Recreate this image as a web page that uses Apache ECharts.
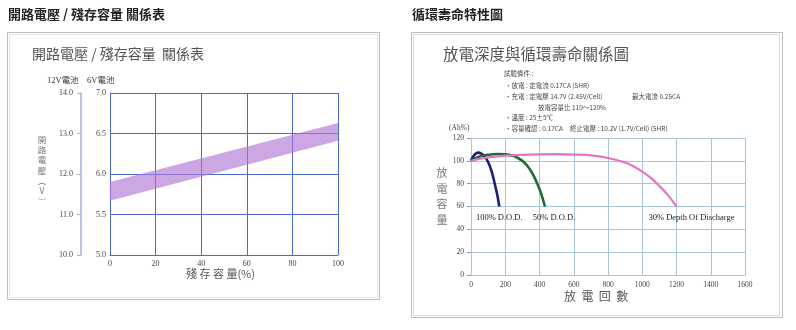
<!DOCTYPE html>
<html>
<head>
<meta charset="utf-8">
<script src="https://cdn.jsdelivr.net/npm/echarts@6/dist/echarts.min.js"></script>
<style>
  html, body { margin: 0; padding: 0; background: #fff; }
  #c { width: 796px; height: 330px; }
</style>
</head>
<body>
<div id="c"></div>
<script>
// Open-circuit voltage vs. remaining capacity (6V scale; 12V scale is x2)
const remainingCapacity = [0, 100];
const ocv6Lower = [5.67, 6.41];
const ocv6Upper = [5.90, 6.63];

// Cycle life vs. depth of discharge
const dod100Cycles = [0, 10, 25, 42, 60, 80, 100, 120, 140, 155, 165];
const dod100Capacity = [100, 103, 106, 107.2, 106.3, 104, 99, 91, 79, 69, 60];
const dod50Cycles = [0, 50, 100, 150, 200, 250, 300, 330, 360, 390, 410, 432];
const dod50Capacity = [100, 103.8, 105.3, 106, 105.7, 104.2, 100, 95.5, 88.5, 79, 71, 60];
const dod30Cycles = [0, 100, 200, 300, 400, 500, 600, 700, 800, 900, 950, 1000, 1050, 1100, 1150, 1200];
const dod30Capacity = [100, 103, 104.5, 105.3, 105.7, 105.8, 105.5, 104.8, 102.5, 98.5, 95, 90.5, 85, 78, 70, 60];

const dodLabels = ['100% D.O.D.', '50% D.O.D.', '30% Depth Of Discharge'];

const testConditions = [
  '試驗條件 :',
  '‧放電 : 定電流 0.17CA (5HR)',
  '‧充電 : 定電壓 14.7V (2.45V/Cell)',
  '放電容量比 110～120%',
  '‧溫度 : 25±5℃',
  '‧容量確認 : 0.17CA'
];
const chargeMaxCurrent = '最大電流 0.25CA';
const cutoffVoltage = '終止電壓 : 10.2V (1.7V/Cell) (5HR)';

const voltageAxisName = ['開', '路', '電', '壓', '︵', 'V', '︶'];
const capacityAxisName = ['放', '電', '容', '量'];

const SERIF = '"Liberation Serif", "Noto Sans CJK TC", serif';
const CJK = '"Noto Sans CJK TC", sans-serif';

const zip = (xs, ys) => xs.map((x, i) => [x, ys[i]]);

const leftGrid = '#4a6bc9';
const rightGrid = '#a9c5de';

// band segments: [x0, lo0, hi0, x1, lo1, hi1]
const bandSegments = [];
for (let i = 0; i < remainingCapacity.length - 1; i++) {
  bandSegments.push([
    remainingCapacity[i], ocv6Lower[i], ocv6Upper[i],
    remainingCapacity[i + 1], ocv6Lower[i + 1], ocv6Upper[i + 1]
  ]);
}

function dodSeries(name, xs, ys, color, width, label, offset) {
  const last = xs.length - 1;
  return {
    name, type: 'line', xAxisIndex: 1, yAxisIndex: 2,
    data: zip(xs, ys), smooth: 0.4, symbol: 'none',
    lineStyle: { color, width },
    markPoint: {
      symbol: 'circle', symbolSize: 0,
      data: [{ coord: [xs[last], ys[last]] }],
      label: {
        show: true, formatter: label, position: 'bottom', offset,
        fontFamily: SERIF, fontSize: 8.5, color: '#222'
      }
    },
    z: 3
  };
}

// vertical axis title, one glyph per line
function verticalText(chars, cx, cy0, pitch, font, fill) {
  return chars.map((ch, i) => ({
    type: 'text', x: cx, y: cy0 + i * pitch, silent: true,
    style: { text: ch, font, fill, align: 'center', verticalAlign: 'middle' }
  }));
}

const chart = echarts.init(document.getElementById('c'), null, { renderer: 'canvas' });

const textEl = (x, y, text, style) => ({
  type: 'text', left: x, top: y, silent: true,
  style: Object.assign({ text, fill: '#333', font: '8px ' + SERIF }, style)
});

chart.setOption({
  backgroundColor: '#fff',
  animation: false,
  grid: [
    { left: 110, top: 93, width: 228, height: 162 },
    { left: 471, top: 138, width: 274, height: 137 }
  ],
  xAxis: [
    {
      gridIndex: 0, type: 'value', min: 0, max: 100, interval: 20,
      axisLine: { show: true, lineStyle: { color: leftGrid, width: 1 } },
      axisTick: { show: false },
      axisLabel: { margin: 5, fontFamily: SERIF, fontSize: 8, color: '#444' },
      splitLine: { show: true, lineStyle: { color: leftGrid, width: 1 } }
    },
    {
      gridIndex: 1, type: 'value', min: 0, max: 1600, interval: 200,
      axisLine: { show: true, lineStyle: { color: rightGrid, width: 1 } },
      axisTick: { show: false },
      axisLabel: { margin: 6, fontFamily: SERIF, fontSize: 7.5, color: '#444', formatter: v => String(v) },
      splitLine: { show: true, lineStyle: { color: rightGrid, width: 1 } }
    }
  ],
  yAxis: [
    {
      gridIndex: 0, type: 'value', min: 5, max: 7, interval: 0.5, position: 'left',
      axisLine: { show: true, lineStyle: { color: leftGrid, width: 1 } },
      axisTick: { show: false },
      axisLabel: { margin: 4, fontFamily: SERIF, fontSize: 8, color: '#444', formatter: v => v.toFixed(1) },
      splitLine: { show: true, lineStyle: { color: leftGrid, width: 1 } }
    },
    {
      gridIndex: 0, type: 'value', min: 10, max: 14, interval: 1, position: 'left', offset: 29,
      axisLine: { show: true, lineStyle: { color: '#a3b0e2', width: 1.5 } },
      axisTick: { show: true, length: 4, lineStyle: { color: '#a3b0e2', width: 1 } },
      axisLabel: { margin: 8, fontFamily: SERIF, fontSize: 8, color: '#444', formatter: v => v.toFixed(1) },
      splitLine: { show: false }
    },
    {
      gridIndex: 1, type: 'value', min: 0, max: 120, interval: 20,
      axisLine: { show: true, lineStyle: { color: rightGrid, width: 1 } },
      axisTick: { show: true, length: 4, lineStyle: { color: '#999', width: 1 } },
      axisLabel: { margin: 7, fontFamily: SERIF, fontSize: 7.5, color: '#444' },
      splitLine: { show: true, lineStyle: { color: rightGrid, width: 1 } }
    }
  ],
  series: [
    {
      name: 'ocvBand', type: 'custom', coordinateSystem: 'cartesian2d',
      xAxisIndex: 0, yAxisIndex: 0, silent: true,
      data: bandSegments,
      encode: { x: [0, 3], y: [1, 2, 4, 5] },
      renderItem: (params, api) => {
        const p = [
          api.coord([api.value(0), api.value(1)]),
          api.coord([api.value(3), api.value(4)]),
          api.coord([api.value(3), api.value(5)]),
          api.coord([api.value(0), api.value(2)])
        ];
        return {
          type: 'polygon',
          shape: { points: p },
          style: { fill: 'rgba(176,120,214,0.65)', stroke: 'none' }
        };
      },
      z: 1
    },
    dodSeries('dod100', dod100Cycles, dod100Capacity, '#1b1f78', 2.6, dodLabels[0], [0, 2]),
    dodSeries('dod50', dod50Cycles, dod50Capacity, '#1f6b33', 2.6, dodLabels[1], [9, 2]),
    dodSeries('dod30', dod30Cycles, dod30Capacity, '#e774c3', 2.2, dodLabels[2], [15, 2])
  ],
  graphic: [
    // section headings
    textEl(8, 8, '開路電壓 / 殘存容量 關係表', { font: 'bold 13px ' + CJK, fill: '#222' }),
    textEl(412, 8, '循環壽命特性圖', { font: 'bold 13px ' + CJK, fill: '#222' }),
    // panel frames (double line)
    { type: 'rect', silent: true, shape: { x: 7.5, y: 32.5, width: 372, height: 267 },
      style: { fill: 'none', stroke: '#bdbdbd', lineWidth: 1 } },
    { type: 'rect', silent: true, shape: { x: 9.5, y: 34.5, width: 368, height: 263 },
      style: { fill: 'none', stroke: '#e2e2e2', lineWidth: 1 } },
    { type: 'rect', silent: true, shape: { x: 411.5, y: 32.5, width: 371, height: 285 },
      style: { fill: 'none', stroke: '#bdbdbd', lineWidth: 1 } },
    { type: 'rect', silent: true, shape: { x: 413.5, y: 34.5, width: 366, height: 281 },
      style: { fill: 'none', stroke: '#dcdcdc', lineWidth: 1 } },
    // left panel texts
    textEl(32, 47, '開路電壓 / 殘存容量  關係表', { font: '14px ' + CJK, fill: '#555' }),
    textEl(47, 77, '12V電池', { font: '8.5px ' + SERIF, fill: '#333' }),
    textEl(87, 77, '6V電池', { font: '8.5px ' + SERIF, fill: '#333' }),
    ...verticalText(voltageAxisName, 42, 139.5, 10.3, '8.5px ' + CJK, '#777'),
    textEl(186, 268, '殘 存 容 量(%)', { font: '11px ' + CJK, fill: '#555' }),
    // right panel texts
    textEl(443, 46, '放電深度與循環壽命關係圖', { font: '15.5px ' + CJK, fill: '#555' }),
    textEl(504, 70, testConditions[0], { font: '6.5px ' + CJK, fill: '#444' }),
    textEl(505, 82, testConditions[1], { font: '6.5px ' + CJK, fill: '#444' }),
    textEl(505, 93, testConditions[2], { font: '6.5px ' + CJK, fill: '#444' }),
    textEl(632, 93, chargeMaxCurrent, { font: '6.5px ' + CJK, fill: '#444' }),
    textEl(538, 104, testConditions[3], { font: '6.5px ' + CJK, fill: '#444' }),
    textEl(505, 114, testConditions[4], { font: '6.5px ' + CJK, fill: '#444' }),
    textEl(505, 125, testConditions[5], { font: '6.5px ' + CJK, fill: '#444' }),
    textEl(570, 125, cutoffVoltage, { font: '6.5px ' + CJK, fill: '#444' }),
    textEl(449, 124, '(Ah%)', { font: '7.5px ' + SERIF, fill: '#444' }),
    ...verticalText(capacityAxisName, 442, 173, 15.5, '11px ' + CJK, '#777'),
    textEl(564, 290, '放  電  回  數', { font: '12px ' + CJK, fill: '#555' })
  ]
});
</script>
</body>
</html>
